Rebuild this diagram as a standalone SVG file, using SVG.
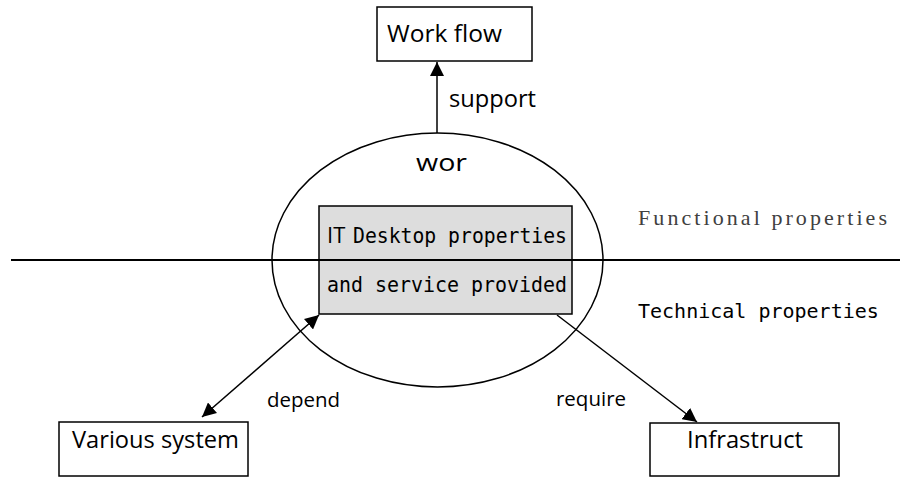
<svg xmlns="http://www.w3.org/2000/svg" width="900" height="477" viewBox="0 0 900 477">
  <style>
    .box { fill: #ffffff; stroke: #000; stroke-width: 1.5; }
    .lbl { font-family: "Open Sans", "Liberation Sans", sans-serif; fill: #000; }
    .mono { font-family: "DejaVu Sans Mono", "Liberation Mono", monospace; font-size: 22px; fill: #000; }
    .conn { stroke: #000; stroke-width: 1.5; fill: none; }
  </style>
  <defs>
    <marker id="arr" markerUnits="userSpaceOnUse" markerWidth="14" markerHeight="14" refX="14" refY="7" orient="auto-start-reverse">
      <path d="M0,0 L14,7 L0,14 z" fill="#000"/>
    </marker>
  </defs>
  <rect width="900" height="477" fill="#fff"/>

  <g id="scope">
    <ellipse cx="437.5" cy="260" rx="165.5" ry="127" fill="none" stroke="#000" stroke-width="1.5"/>
    <text class="lbl" x="416" y="171" font-size="24" textLength="51" lengthAdjust="spacingAndGlyphs">wor</text>
  </g>

  <g id="it-desktop">
    <rect x="319" y="206" width="253" height="108" fill="#dddddd" stroke="#000" stroke-width="1.5"/>
    <text class="lbl" x="327" y="243" font-size="22">IT</text>
    <text class="mono" x="353" y="243" textLength="214" lengthAdjust="spacingAndGlyphs">Desktop properties</text>
    <text class="mono" x="327" y="292" textLength="240" lengthAdjust="spacingAndGlyphs">and service provided</text>
  </g>

  <g id="divider">
    <line x1="11" y1="260" x2="900" y2="260" stroke="#000" stroke-width="2"/>
    <text x="638" y="225" font-family="Liberation Serif, serif" font-size="22" fill="#404040" textLength="249" lengthAdjust="spacing">Functional properties</text>
    <text class="mono" x="638" y="318" font-size="20" style="font-size:20px">Technical properties</text>
  </g>

  <g id="workflow">
    <rect class="box" x="377" y="7" width="155" height="54"/>
    <text class="lbl" x="387" y="42" font-size="24" textLength="115" lengthAdjust="spacingAndGlyphs">Work flow</text>
  </g>

  <g id="various-system">
    <rect class="box" x="59" y="422" width="189" height="54"/>
    <text class="lbl" x="72" y="448" font-size="24" textLength="167" lengthAdjust="spacingAndGlyphs">Various system</text>
  </g>

  <g id="infrastruct">
    <rect class="box" x="650" y="423" width="189" height="53"/>
    <text class="lbl" x="687" y="448" font-size="24" textLength="116" lengthAdjust="spacingAndGlyphs">Infrastruct</text>
  </g>

  <g id="connectors">
    <line class="conn" x1="437" y1="133" x2="437" y2="62" marker-end="url(#arr)"/>
    <text class="lbl" x="449" y="107" font-size="24" textLength="87" lengthAdjust="spacingAndGlyphs">support</text>
    <line class="conn" x1="202" y1="417" x2="319" y2="315" marker-start="url(#arr)" marker-end="url(#arr)"/>
    <text class="lbl" x="267" y="407" font-size="20" textLength="73" lengthAdjust="spacingAndGlyphs">depend</text>
    <line class="conn" x1="557" y1="315" x2="697" y2="422" marker-end="url(#arr)"/>
    <text class="lbl" x="556" y="406" font-size="20" textLength="70" lengthAdjust="spacingAndGlyphs">require</text>
  </g>
</svg>
